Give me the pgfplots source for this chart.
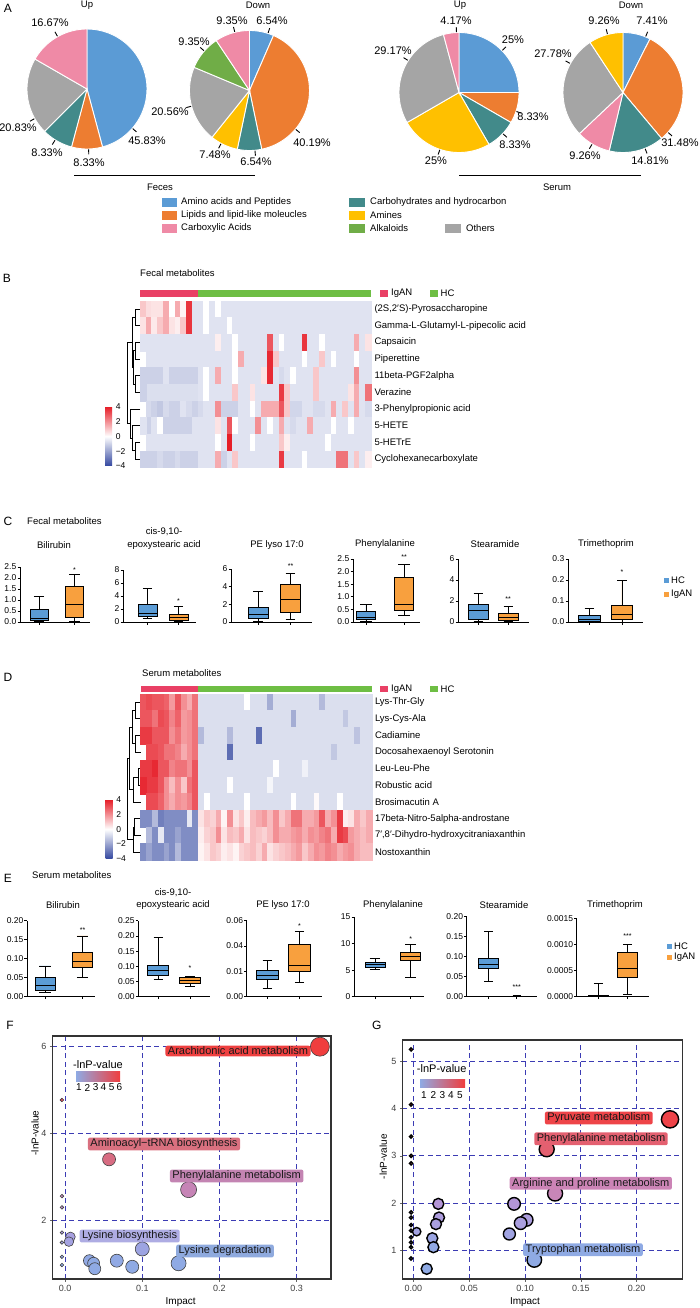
\documentclass[border=0pt]{standalone}
\usepackage{fontspec}
\setmainfont{Liberation Sans}
\setsansfont{Liberation Sans}
\usepackage{pgfplots}
\pgfplotsset{compat=1.18}
\usepackage{pgfplotstable}
\usepgfplotslibrary{statistics}
\usetikzlibrary{calc}
\newcommand{\fs}[1]{\fontsize{#1}{#1}\selectfont}
\definecolor{cBlue}{RGB}{91,155,213}
\definecolor{cOrange}{RGB}{237,125,49}
\definecolor{cPink}{RGB}{239,138,166}
\definecolor{cTeal}{RGB}{66,138,138}
\definecolor{cYellow}{RGB}{255,192,0}
\definecolor{cGreen}{RGB}{112,173,71}
\definecolor{cGray}{RGB}{165,165,165}
\definecolor{bBlue}{RGB}{91,156,214}
\definecolor{bOrange}{RGB}{248,160,62}
\definecolor{hIg}{RGB}{233,64,101}
\definecolor{hHC}{RGB}{110,190,68}
\definecolor{gridblue}{RGB}{60,60,180}
\definecolor{fRed}{RGB}{238,64,64}
\definecolor{fRose}{RGB}{217,112,127}
\definecolor{fMauve}{RGB}{195,132,178}
\definecolor{fLav}{RGB}{160,158,222}
\definecolor{fBlue}{RGB}{143,170,222}
\definecolor{gRed}{RGB}{238,68,72}
\definecolor{gRose}{RGB}{228,96,112}
\definecolor{gMauve}{RGB}{204,132,182}
\definecolor{gradL}{RGB}{143,170,228}
\definecolor{gradM}{RGB}{204,128,170}
\definecolor{gradR}{RGB}{240,62,62}

\pgfplotsset{
 pie/.style={hide axis, x=60pt, y=60pt, xmin=-1, xmax=1, ymin=-1, ymax=1, anchor=center, clip=false},
 heat/.style={scale only axis, anchor=north west, width=231pt, height=166.6pt, xmin=-0.5, xmax=39.5, ymin=-0.5, ymax=9.5, y dir=reverse, clip=false, enlargelimits=false,
   axis line style={draw=none}, xtick=\empty, ytick={0,1,2,3,4,5,6,7,8,9}, yticklabel pos=right, major tick length=0pt, tick style={draw=none},
   yticklabel style={font=\fs{9.5}},
   colormap={hm}{rgb255=(52,72,160) rgb255=(255,255,255) rgb255=(230,30,40)}, point meta min=-4, point meta max=4,
   colorbar, colorbar style={scale only axis, at={(parent axis.south west)}, anchor=south east, xshift=-36.3pt, yshift=1.5pt, width=7pt, height=59pt, y dir=normal,
     ytick={-4,-2,0,2,4}, yticklabels={−4,−2,0,2,4}, yticklabel pos=right, yticklabel style={font=\fs{8.5}}, major tick length=0pt, tick style={draw=none}, axis line style={draw=none}}},
 cells/.style={scatter, only marks, mark=square*, mark size=2.93pt, mark options={yscale=2.86, line width=0.05pt},
   scatter/use mapped color={draw=mapped color, fill=mapped color}},
 boxax/.style={scale only axis, anchor=south west, axis lines*=left, axis line style={-, line width=0.9pt}, ymin=0, xtick={1,2}, xticklabels={},
   tick align=outside, major tick length=2.5pt, tick style={black, line width=0.8pt}, yticklabel style={font=\fs{8.5}, inner sep=1pt}, clip=false, enlargelimits=false},
 bub/.style={scale only axis, anchor=south west, clip=false, grid=major, major grid style={draw=gridblue, dash pattern=on 5pt off 3.5pt, line width=0.8pt},
   axis line style={line width=1.6pt, draw=black!80}, tick pos=left, tick align=outside, major tick length=2.5pt, tick style={draw=black!60, line width=0.6pt},
   ticklabel style={font=\fs{9}, text=black!75}},
}
\newcommand{\slice}[3]{\addplot[fill=#3, draw=white, line width=0.9pt, domain=#1:#2, samples=40] ({cos(x)},{sin(x)}) -- (0,0) -- cycle;}
\newcommand{\dend}[5]{\addplot[black, line width=0.7pt, forget plot] coordinates {(#1,#2) (#3,#2) (#3,#5) (#4,#5)};}
\newcommand{\bw}{0.5}
\newcommand{\bx}[7]{\addplot[boxplot prepared={draw direction=y, lower whisker=#1, lower quartile=#2, median=#3, upper quartile=#4, upper whisker=#5, draw position=#6, box extend=\bw, whisker extend=0.3}, fill=#7, draw=black, line width=0.8pt] coordinates {};}
\newcommand{\plab}[5]{\node[font=\fs{11}, inner sep=0pt] at (#3,#4) {#5\%}; \draw[line width=0.9pt] ($(#1,#2)!60.5pt!(#3,#4)$) -- ($(#1,#2)!65.5pt!(#3,#4)$);}

\pgfplotstableread[row sep=\\]{v\\
1\\0.6\\0.5\\0.5\\1.5\\0\\1.5\\0.2\\3.6\\-0.6\\
-0.6\\0\\-0.6\\0\\-0.6\\-0.6\\-0.6\\-0.6\\-0.6\\-0.6\\
-0.6\\-0.6\\-0.6\\-0.6\\-0.6\\-0.6\\-0.6\\-0.6\\-0.6\\-0.6\\
-0.6\\-0.6\\-0.6\\-0.6\\-0.6\\-0.6\\-0.6\\-0.6\\-0.6\\-0.6\\
0.5\\1.5\\0.4\\1\\1.5\\0.5\\0.3\\1\\3.6\\-0.6\\
-0.6\\0\\-0.6\\-0.6\\-0.6\\0\\-0.6\\-0.6\\-0.6\\-0.6\\
-0.6\\-0.6\\-0.6\\-0.6\\-0.6\\-0.6\\-0.6\\-0.6\\-0.6\\-0.6\\
-0.6\\-0.6\\-0.6\\-0.6\\-0.6\\-0.6\\-0.6\\-0.6\\-0.6\\-0.6\\
-0.6\\-0.6\\-0.6\\-0.6\\-0.6\\-0.6\\-0.6\\-0.6\\-0.6\\-0.6\\
-0.6\\-0.6\\-0.6\\0.3\\-0.6\\-0.6\\0\\-0.6\\-0.6\\-0.6\\
-0.6\\-0.6\\3\\-0.6\\0\\-0.6\\-0.6\\-0.6\\3.6\\-0.6\\
-0.6\\0\\-0.6\\-0.6\\-0.6\\-0.6\\-0.6\\1.5\\-0.6\\0.5\\
-0.6\\-0.6\\-0.6\\-0.6\\-0.6\\-0.6\\-0.6\\-0.6\\-0.6\\-0.6\\
-0.6\\-0.6\\-0.6\\-0.6\\-0.6\\-0.6\\0\\1.5\\-0.6\\-0.6\\
-0.6\\-0.6\\3.8\\1\\-0.6\\-0.6\\-0.6\\-0.6\\0\\-0.6\\
-0.6\\1\\-0.6\\0\\-0.6\\-0.6\\-0.6\\0\\-0.6\\-0.6\\
-1\\-1\\-1\\-1\\-0.6\\-1\\-1\\-1\\-1\\-1\\
-0.6\\0\\-0.6\\1.5\\-0.6\\-0.6\\0\\-0.6\\-0.6\\-0.6\\
-0.6\\0.5\\3.8\\-0.6\\-0.8\\-0.6\\0\\-0.6\\-0.6\\-0.6\\
1\\-0.6\\-0.6\\-0.6\\-0.6\\-0.6\\-0.6\\2\\-0.6\\-0.6\\
-0.7\\-0.7\\-0.7\\-0.7\\-0.7\\-0.7\\-0.7\\-0.7\\-0.7\\-0.7\\
-0.6\\0\\-0.6\\-0.6\\-0.6\\-0.6\\1\\-0.6\\-0.6\\0.5\\
-0.6\\-0.6\\-0.6\\-0.6\\3.5\\1\\-0.6\\-0.6\\-0.6\\-0.6\\
1\\-0.6\\-0.6\\-0.6\\-0.6\\-0.6\\0.5\\1.5\\-0.6\\2.5\\
-1\\-0.8\\-1\\-1.2\\-0.8\\-1\\-1\\-0.6\\-0.8\\-1\\
-0.8\\-0.6\\-0.6\\2\\-1\\-1\\-1\\-0.6\\-0.6\\0\\
-0.6\\1.5\\1.5\\1.5\\3\\1\\-0.9\\-0.9\\-0.6\\-0.6\\
-0.8\\-0.8\\-0.6\\1.5\\-0.6\\1\\-0.6\\1.5\\-0.6\\-0.8\\
-1\\-1\\-0.6\\0\\-1\\-1\\-1\\-1\\-1\\-0.6\\
-0.6\\-0.6\\-0.6\\0.5\\-0.6\\3\\0\\-0.6\\-0.6\\-0.6\\
2\\-0.6\\0\\-0.6\\1.5\\-0.6\\-0.8\\-0.6\\-0.6\\1.5\\
-0.6\\-0.6\\-0.6\\0\\-0.6\\-0.6\\0\\-0.6\\-0.6\\-0.6\\
-0.6\\-0.6\\-0.6\\-0.6\\-0.6\\-0.6\\-0.6\\-0.6\\-0.6\\-0.6\\
-0.6\\-0.6\\-0.6\\0\\-0.6\\4\\-0.6\\-0.6\\-0.6\\0\\
-0.6\\-0.6\\-0.6\\-0.6\\1\\0.3\\-0.6\\-0.6\\-0.6\\-0.6\\
-0.6\\-0.6\\0\\-0.6\\-0.6\\-0.6\\-0.6\\-0.6\\-0.6\\-0.6\\
-1\\-1\\-1\\-0.8\\-1\\-1\\-0.8\\-1\\-1\\-1\\
-0.6\\-0.6\\-0.6\\1.5\\-1\\-0.6\\1\\-0.6\\-0.6\\-0.6\\
-0.6\\-0.6\\-0.6\\-0.6\\3.5\\-0.6\\-0.6\\-0.6\\0\\-0.6\\
-0.6\\-0.6\\-0.6\\-0.6\\2.5\\2.5\\-0.6\\1\\-0.6\\0.3\\}\fecT

\pgfplotstableread[row sep=\\]{v\\
3\\3.2\\3\\3\\2.8\\1.8\\3\\2\\1.5\\2.5\\
-0.7\\-0.7\\-0.7\\-0.7\\-0.7\\-0.7\\-0.7\\-0.7\\0\\-0.7\\
-0.7\\-0.7\\-1.8\\-0.7\\-0.7\\-0.7\\-0.7\\-0.7\\-0.7\\-0.7\\
-0.7\\-1.5\\-0.7\\-0.7\\-0.7\\-0.7\\-0.7\\-0.7\\-0.7\\-0.7\\
3\\3\\2.5\\3.2\\3\\2.2\\2.8\\1.8\\2\\2.5\\
-0.7\\-0.7\\-0.7\\-0.7\\-0.7\\-0.7\\-0.7\\-0.7\\-0.7\\-0.7\\
-0.7\\-0.7\\-0.7\\-0.7\\-0.7\\-0.7\\-1.8\\-0.7\\-0.7\\-0.7\\
-0.7\\-0.7\\-0.7\\-0.7\\-0.7\\-1.2\\-0.7\\-0.7\\-0.7\\-0.7\\
3.5\\3.5\\3\\3\\3\\2\\2.5\\1.8\\2\\2.5\\
-1.5\\-0.7\\-0.7\\-0.7\\-0.7\\-1.5\\-0.7\\-0.7\\-0.7\\-0.7\\
-3.2\\-0.7\\-0.7\\-0.7\\-0.7\\-0.7\\-0.7\\-0.7\\-0.7\\-0.7\\
-0.7\\-0.7\\-0.7\\-0.7\\-0.7\\-0.7\\-0.7\\-1.3\\-0.7\\-0.7\\
3.5\\3.2\\3.2\\3\\2.5\\2.5\\2.2\\1.5\\2\\2.5\\
-0.7\\-0.7\\-0.7\\-0.7\\-0.7\\-3.2\\-0.7\\-0.7\\-0.7\\-0.7\\
-0.7\\-0.7\\-0.7\\-0.7\\-0.7\\-0.7\\-0.7\\-0.7\\-0.7\\-0.7\\
-0.7\\-0.7\\-0.7\\-1.2\\-0.7\\-0.7\\-0.7\\-0.7\\-0.7\\-0.7\\
3.5\\3.5\\3.8\\3\\3\\2.2\\2.5\\2.5\\2\\3\\
-0.7\\-0.7\\-0.7\\-0.7\\-0.7\\-0.7\\-0.7\\-0.7\\-0.7\\-0.7\\
-0.7\\-0.7\\-0.7\\0\\-0.7\\-0.7\\-0.7\\-0.7\\-0.3\\-0.7\\
-0.7\\-0.7\\-0.7\\-0.7\\-0.7\\-0.7\\-0.7\\-0.7\\-0.7\\-0.7\\
3.8\\3.5\\3.5\\3\\2\\1.2\\2\\1\\2.5\\3\\
-0.7\\-0.7\\-0.7\\-0.7\\-0.7\\0\\-0.7\\-0.7\\-0.7\\-0.7\\
-0.7\\-0.7\\-0.2\\-0.7\\-0.7\\-0.7\\-0.7\\-0.7\\-0.7\\-0.7\\
-0.7\\-0.7\\-0.7\\-0.7\\-0.7\\-0.7\\-0.7\\-0.7\\-0.7\\-0.7\\
3.8\\3.2\\3.2\\2.8\\2\\1.5\\2\\1.8\\2.2\\3\\
-0.7\\0\\-0.7\\-0.7\\-0.7\\-0.7\\-0.7\\-0.7\\0\\-0.7\\
-0.7\\-0.7\\-0.7\\-0.7\\-0.7\\-0.7\\0\\-0.7\\-0.7\\-0.7\\
0.1\\-0.7\\-0.7\\-0.7\\0\\-0.7\\-0.7\\-0.7\\-0.7\\-0.7\\
-2.5\\-2.5\\-1.5\\-2.8\\-2.5\\-2.5\\-2.5\\-2.5\\-0.5\\-2.5\\
0.5\\1\\0.8\\1.5\\0.2\\2\\0.5\\1\\0.3\\1.2\\
1.5\\1.8\\1.2\\2\\1\\1.5\\2.5\\2.5\\1.5\\1.5\\
1.8\\3\\1.5\\2\\3.5\\0.3\\0.5\\1.5\\1\\1.5\\
-2.5\\-1.5\\-2.5\\-0.5\\-2.5\\-2.5\\-2\\-2.5\\-2.5\\-2.5\\
0.3\\0.8\\1\\2\\0.5\\1.2\\1\\1.5\\0.5\\1.2\\
1\\0.8\\1.2\\2\\1.5\\1.5\\1.8\\2\\1.5\\2\\
1.8\\2.2\\2.5\\1.5\\3.5\\3.2\\1.8\\1.5\\1.2\\1.5\\
-2.5\\-2\\-2.5\\-2.5\\-2\\-2.5\\-1.5\\-2.5\\-2.5\\-2.5\\
0.2\\0.5\\1\\0.8\\0.3\\0.5\\0.2\\0.8\\1\\1.2\\
0.8\\1.5\\0.5\\0.8\\1\\1.2\\1.5\\1.8\\1\\1.5\\
2\\1.8\\2.2\\2\\1.5\\1.8\\2\\1.5\\1.2\\1.2\\}\serT

\pgfplotstablecreatecol[create col/expr={mod(\pgfplotstablerow,40)}]{cx}{\fecT}
\pgfplotstablecreatecol[create col/expr={floor(\pgfplotstablerow/40)}]{cy}{\fecT}
\pgfplotstablecreatecol[create col/expr={mod(\pgfplotstablerow,40)}]{cx}{\serT}
\pgfplotstablecreatecol[create col/expr={floor(\pgfplotstablerow/40)}]{cy}{\serT}

\pgfplotstableread{
x y r
0.330 6.00 9.5
-0.004 4.77 1.8
-0.004 2.55 1.8
-0.004 2.29 1.8
-0.004 1.71 1.8
-0.004 1.48 1.8
-0.004 1.15 1.8
-0.004 0.96 1.8
0.007 1.61 4.8
0.005 1.50 4.8
0.057 3.40 6.5
0.160 2.70 8
0.100 1.33 7
0.147 1.00 7.5
0.0316 1.06 6
0.037 1.00 6
0.0385 0.875 6
0.067 1.06 6.5
0.087 0.92 6.5
}\bubF

\pgfplotstableread{
x y r
0.2298 3.775 8.6
0.1194 3.14 7.5
0.1269 2.20 7.5
0.1083 0.79 7.3
0.0902 1.98 6.3
0.1015 1.64 6.3
0.0961 1.57 6.3
0.0860 1.34 6.0
0.0224 1.98 5.5
0.0230 1.69 5.5
0.0203 1.55 5.5
0.0170 1.25 5.5
0.0180 1.06 5.5
0.0120 0.60 5.5
0.0030 1.39 4.2
-0.002 5.26 1.6
-0.002 4.09 1.6
-0.002 3.41 1.6
-0.002 3.00 1.6
-0.002 2.84 1.6
-0.002 1.80 1.6
-0.002 1.69 1.6
-0.002 1.53 1.6
-0.002 1.41 1.6
-0.002 1.27 1.6
-0.002 1.16 1.6
-0.002 1.06 1.6
-0.002 0.82 1.6
}\bubG

\begin{document}
\begin{tikzpicture}[x=1pt,y=-1pt]
\useasboundingbox (0,0) rectangle (700,1308);

% ================= A: pies
\begin{axis}[pie, at={(87pt,-89pt)}]
\slice{-74.99}{90}{cBlue}
\slice{-104.98}{-74.99}{cOrange}
\slice{-134.96}{-104.98}{cTeal}
\slice{-209.95}{-134.96}{cGray}
\slice{-270}{-209.95}{cPink}
\end{axis}
\begin{axis}[pie, at={(249.5pt,-90.5pt)}]
\slice{66.456}{90}{cBlue}
\slice{-78.228}{66.456}{cOrange}
\slice{-101.772}{-78.228}{cTeal}
\slice{-128.7}{-101.772}{cYellow}
\slice{-202.716}{-128.7}{cGray}
\slice{-236.376}{-202.716}{cGreen}
\slice{-270}{-236.376}{cPink}
\end{axis}
\begin{axis}[pie, at={(459pt,-92.5pt)}]
\slice{0}{90}{cBlue}
\slice{-29.988}{0}{cOrange}
\slice{-59.976}{-29.988}{cTeal}
\slice{-149.976}{-59.976}{cYellow}
\slice{-254.988}{-149.976}{cGray}
\slice{-270}{-254.988}{cPink}
\end{axis}
\begin{axis}[pie, at={(623pt,-92.5pt)}]
\slice{63.324}{90}{cBlue}
\slice{-50.004}{63.324}{cOrange}
\slice{-103.32}{-50.004}{cTeal}
\slice{-136.656}{-103.32}{cPink}
\slice{-236.664}{-136.656}{cGray}
\slice{-270}{-236.664}{cYellow}
\end{axis}

\plab{87}{89}{50}{23}{16.67}
\plab{87}{89}{18}{128}{20.83}
\plab{87}{89}{47}{153}{8.33}
\plab{87}{89}{89}{163}{8.33}
\plab{87}{89}{147}{141}{45.83}
\plab{249.5}{90.5}{232}{21}{9.35}
\plab{249.5}{90.5}{272}{21}{6.54}
\plab{249.5}{90.5}{194}{42}{9.35}
\plab{249.5}{90.5}{170}{112}{20.56}
\plab{249.5}{90.5}{215}{155}{7.48}
\plab{249.5}{90.5}{256}{162}{6.54}
\plab{249.5}{90.5}{312}{143}{40.19}
\plab{459}{92.5}{456}{21}{4.17}
\plab{459}{92.5}{513}{40}{25}
\plab{459}{92.5}{393}{51}{29.17}
\plab{459}{92.5}{533}{117}{8.33}
\plab{459}{92.5}{515}{145}{8.33}
\plab{459}{92.5}{436}{161}{25}
\plab{623}{92.5}{604}{21}{9.26}
\plab{623}{92.5}{652}{21}{7.41}
\plab{623}{92.5}{553}{54}{27.78}
\plab{623}{92.5}{680}{143}{31.48}
\plab{623}{92.5}{650}{161}{14.81}
\plab{623}{92.5}{585}{156}{9.26}

\node[font=\fs{12}, inner sep=0pt] at (8,8) {A};
\node[font=\fs{9.5}, inner sep=0pt] at (87,5) {Up};
\node[font=\fs{9.5}, inner sep=0pt] at (258,5) {Down};
\node[font=\fs{9.5}, inner sep=0pt] at (460,5) {Up};
\node[font=\fs{9.5}, inner sep=0pt] at (631,5) {Down};
\draw[line width=1pt] (74,176) -- (255,176);
\draw[line width=1pt] (459,176) -- (641,176);
\node[font=\fs{9.5}, inner sep=0pt] at (160,187) {Feces};
\node[font=\fs{9.5}, inner sep=0pt] at (557,187) {Serum};
\fill[cBlue] (162,198) rectangle (177,207);
\fill[cOrange] (162,210.5) rectangle (177,219.5);
\fill[cPink] (162,223.5) rectangle (177,232.5);
\fill[cTeal] (349,198) rectangle (365,207);
\fill[cYellow] (349,210.5) rectangle (365,219.5);
\fill[cGreen] (349,223.5) rectangle (365,232.5);
\fill[cGray] (445,223.5) rectangle (461,232.5);
\begin{scope}[every node/.style={font=\fs{9.5}, anchor=west, inner sep=0pt}]
\node at (181,202.5) {Amino acids and Peptides};
\node at (181,215) {Lipids and lipid-like moleucles};
\node at (181,228) {Carboxylic Acids};
\node at (370,202.5) {Carbohydrates and hydrocarbon};
\node at (370,215) {Amines};
\node at (370,228) {Alkaloids};
\node at (466,228) {Others};
\end{scope}

% ================= B: fecal heatmap
\begin{axis}[heat, at={(140pt,-300.7pt)},
  yticklabels={{(2S,2′S)-Pyrosaccharopine},Gamma-L-Glutamyl-L-pipecolic acid,Capsaicin,Piperettine,11beta-PGF2alpha,Verazine,3-Phenylpropionic acid,5-HETE,5-HETrE,Cyclohexanecarboxylate}]
\addplot[cells, point meta=\thisrow{v}] table[x=cx, y=cy] {\fecT};
\dend{-0.5}{0}{-1.31}{-0.5}{1}
\dend{-0.5}{2}{-1.31}{-0.5}{3}
\dend{-0.5}{4}{-1.31}{-0.5}{5}
\dend{-1.31}{2.5}{-1.71}{-1.31}{4.5}
\dend{-1.31}{0.5}{-1.89}{-1.71}{3.5}
\dend{-0.5}{8}{-1.31}{-0.5}{9}
\dend{-0.5}{7}{-1.89}{-1.31}{8.5}
\dend{-0.5}{6}{-2.16}{-1.89}{7.75}
\dend{-1.89}{2}{-2.75}{-2.16}{6.875}
\end{axis}
\node[font=\fs{12}, inner sep=0pt] at (7,278) {B};
\node[font=\fs{9.5}, anchor=west, inner sep=0pt] at (140,273) {Fecal metabolites};
\fill[hIg] (140,290) rectangle (197.75,297);
\fill[hHC] (197.75,290) rectangle (371,297);
\fill[hIg] (379.5,290) rectangle (387.5,297);
\fill[hHC] (429.5,290) rectangle (437.5,297);
\node[font=\fs{9.5}, anchor=west, inner sep=0pt] at (391,293.5) {IgAN};
\node[font=\fs{9.5}, anchor=west, inner sep=0pt] at (440.5,293.5) {HC};

% ================= C: fecal boxplots
\node[font=\fs{12}, inner sep=0pt] at (8,521) {C};
\node[font=\fs{9.5}, anchor=west, inner sep=0pt] at (27,521) {Fecal metabolites};
\begin{scope}[every node/.style={font=\fs{9.5}, inner sep=0pt}]
\node at (54,545) {Bilirubin};
\node at (164,532) {cis-9,10-};
\node at (164,545) {epoxystearic acid};
\node at (277,545) {PE lyso 17:0};
\node at (385,544) {Phenylalanine};
\node at (495,544) {Stearamide};
\node at (606,544) {Trimethoprim};
\end{scope}

\renewcommand{\bw}{0.51}
\begin{axis}[boxax, at={(20pt,-622pt)}, width=70pt, height=55pt, xmin=0.46, xmax=2.44, ymax=2.5, ytick={0,0.5,1,1.5,2,2.5}, yticklabels={0.0,0.5,1.0,1.5,2.0,2.5}]
\bx{0.02}{0.07}{0.18}{0.56}{1.15}{1}{bBlue}
\bx{0.03}{0.2}{0.8}{1.62}{2.15}{2}{bOrange}
\node[font=\fs{7}] at (axis cs:2,2.38) {*};
\end{axis}
\renewcommand{\bw}{0.61}
\begin{axis}[boxax, at={(123pt,-622pt)}, width=73pt, height=52pt, xmin=0.21, xmax=2.56, ymax=8, ytick={0,2,4,6,8}, yticklabels={0,2,4,6,8}]
\bx{0.5}{0.8}{1.4}{2.7}{5.2}{1}{bBlue}
\bx{0.05}{0.2}{0.75}{1.2}{2.35}{2}{bOrange}
\node[font=\fs{7}] at (axis cs:2,3.2) {*};
\end{axis}
\begin{axis}[boxax, at={(231pt,-622pt)}, width=81pt, height=53pt, xmin=0.17, xmax=2.66, ymax=6, ytick={0,2,4,6}, yticklabels={0,2,4,6}]
\bx{0.1}{0.45}{0.9}{1.7}{3.5}{1}{bBlue}
\bx{0.3}{1.1}{2.6}{4.3}{5.5}{2}{bOrange}
\node[font=\fs{7}] at (axis cs:2,6.3) {**};
\end{axis}
\renewcommand{\bw}{0.5}
\begin{axis}[boxax, at={(353pt,-622pt)}, width=67pt, height=63pt, xmin=0.66, xmax=2.42, ymax=2.5, ytick={0,0.5,1,1.5,2,2.5}, yticklabels={0.0,0.5,1.0,1.5,2.0,2.5}]
\bx{0.02}{0.1}{0.2}{0.42}{0.68}{1}{bBlue}
\bx{0.25}{0.45}{0.68}{1.76}{2.29}{2}{bOrange}
\node[font=\fs{7}] at (axis cs:2,2.56) {**};
\end{axis}
\renewcommand{\bw}{0.67}
\begin{axis}[boxax, at={(458pt,-622pt)}, width=71pt, height=63pt, xmin=0.33, xmax=2.7, ymax=6, ytick={0,2,4,6}, yticklabels={0,2,4,6}]
\bx{0.02}{0.25}{1.1}{1.65}{2.7}{1}{bBlue}
\bx{0.02}{0.2}{0.45}{0.8}{1.45}{2}{bOrange}
\node[font=\fs{7}] at (axis cs:2,2.2) {**};
\end{axis}
\renewcommand{\bw}{0.65}
\begin{axis}[boxax, at={(568pt,-622pt)}, width=75pt, height=63pt, xmin=0.34, xmax=2.65, ymax=0.3, ytick={0,0.1,0.2,0.3}, yticklabels={0.0,0.1,0.2,0.3}]
\bx{0}{0.005}{0.014}{0.033}{0.066}{1}{bBlue}
\bx{0}{0.014}{0.038}{0.081}{0.2}{2}{bOrange}
\node[font=\fs{7}] at (axis cs:2,0.24) {*};
\end{axis}
\fill[bBlue] (664,577.5) rectangle (669,582.5);
\fill[bOrange] (664,591.5) rectangle (669,596.5);
\node[font=\fs{9.5}, anchor=west, inner sep=0pt] at (671,580) {HC};
\node[font=\fs{9.5}, anchor=west, inner sep=0pt] at (671,594) {IgAN};

% ================= D: serum heatmap
\begin{axis}[heat, at={(140.5pt,-693.6pt)},
  yticklabels={Lys-Thr-Gly,Lys-Cys-Ala,Cadiamine,Docosahexaenoyl Serotonin,Leu-Leu-Phe,Robustic acid,Brosimacutin A,17beta-Nitro-5alpha-androstane,{7′,8′-Dihydro-hydroxycitraniaxanthin},Nostoxanthin}]
\addplot[cells, point meta=\thisrow{v}] table[x=cx, y=cy] {\serT};
\dend{-0.5}{0}{-1.37}{-0.5}{1}
\dend{-0.5}{2}{-1.37}{-0.5}{3}
\dend{-1.37}{0.5}{-1.9}{-1.37}{2.5}
\dend{-0.5}{4}{-0.85}{-0.5}{5}
\dend{-0.5}{6}{-1.7}{-0.85}{4.5}
\dend{-1.9}{1.5}{-2.4}{-1.7}{5.25}
\dend{-0.5}{7}{-1.5}{-0.5}{8}
\dend{-0.5}{9}{-1.7}{-1.5}{7.5}
\dend{-2.4}{3.375}{-2.7}{-1.7}{8.25}
\end{axis}
\node[font=\fs{12}, inner sep=0pt] at (8,677) {D};
\node[font=\fs{9.5}, anchor=west, inner sep=0pt] at (142,673) {Serum metabolites};
\fill[hIg] (140.5,686) rectangle (198.3,692);
\fill[hHC] (198.3,686) rectangle (371.5,692);
\fill[hIg] (379.5,686) rectangle (387.5,692);
\fill[hHC] (429.5,686) rectangle (437.5,692);
\node[font=\fs{9.5}, anchor=west, inner sep=0pt] at (391,689) {IgAN};
\node[font=\fs{9.5}, anchor=west, inner sep=0pt] at (440.5,689) {HC};

% ================= E: serum boxplots
\node[font=\fs{12}, inner sep=0pt] at (8,878) {E};
\node[font=\fs{9.5}, anchor=west, inner sep=0pt] at (32,875) {Serum metabolites};
\begin{scope}[every node/.style={font=\fs{9.5}, inner sep=0pt}]
\node at (63,905.5) {Bilirubin};
\node at (173,892.5) {cis-9,10-};
\node at (173,905.5) {epoxystearic acid};
\node at (283,905.5) {PE lyso 17:0};
\node at (393,905.5) {Phenylalanine};
\node at (504,905.5) {Stearamide};
\node at (615,905.5) {Trimethoprim};
\end{scope}
\renewcommand{\bw}{0.53}
\begin{axis}[boxax, at={(27pt,-996.7pt)}, width=68pt, height=76pt, xmin=0.52, xmax=2.33, ymax=0.2, ytick={0,0.05,0.1,0.15,0.2}, yticklabels={0.00,0.05,0.10,0.15,0.20}]
\bx{0.012}{0.016}{0.029}{0.051}{0.081}{1}{bBlue}
\bx{0.05}{0.077}{0.094}{0.117}{0.16}{2}{bOrange}
\node[font=\fs{7}] at (axis cs:2,0.175) {**};
\end{axis}
\renewcommand{\bw}{0.66}
\begin{axis}[boxax, at={(138.3pt,-996.7pt)}, width=71.7pt, height=76pt, xmin=0.37, xmax=2.63, ymax=0.25, ytick={0,0.05,0.1,0.15,0.2,0.25}, yticklabels={0.00,0.05,0.10,0.15,0.20,0.25}]
\bx{0.058}{0.069}{0.088}{0.102}{0.195}{1}{bBlue}
\bx{0.033}{0.044}{0.055}{0.064}{0.068}{2}{bOrange}
\node[font=\fs{7}] at (axis cs:2,0.095) {*};
\end{axis}
\renewcommand{\bw}{0.69}
% values in units of 0.01 (axis as printed in the source: 0.00, 0.01, 0.04, 0.06)
\begin{axis}[boxax, at={(246.7pt,-996.7pt)}, width=75pt, height=76pt, xmin=0.35, xmax=2.69, ymax=6, ytick={0,2,4,6}, yticklabels={0.00,0.01,0.04,0.06}]
\bx{0.66}{1.4}{1.71}{2.1}{2.89}{1}{bBlue}
\bx{1.1}{2.03}{2.45}{4.16}{5.13}{2}{bOrange}
\node[font=\fs{7}] at (axis cs:2,5.55) {*};
\end{axis}
\renewcommand{\bw}{0.56}
\begin{axis}[boxax, at={(354pt,-996.7pt)}, width=70pt, height=79.7pt, xmin=0.41, xmax=2.37, ymax=15, ytick={0,5,10,15}, yticklabels={0,5,10,15}]
\bx{5.1}{5.6}{6.1}{6.5}{7.2}{1}{bBlue}
\bx{3.7}{6.8}{7.6}{8.4}{9.8}{2}{bOrange}
\node[font=\fs{7}] at (axis cs:2,10.9) {*};
\end{axis}
\renewcommand{\bw}{0.7}
\begin{axis}[boxax, at={(466.7pt,-996.7pt)}, width=70pt, height=80pt, xmin=0.24, xmax=2.7, ymax=0.2, ytick={0,0.05,0.1,0.15,0.2}, yticklabels={0.00,0.05,0.10,0.15,0.20}]
\bx{0.0375}{0.071}{0.082}{0.095}{0.1625}{1}{bBlue}
\bx{0}{0.0005}{0.001}{0.002}{0.003}{2}{bOrange}
\node[font=\fs{7}] at (axis cs:2,0.0235) {***};
\end{axis}
\renewcommand{\bw}{0.68}
% values in units of 0.001
\begin{axis}[boxax, at={(576.7pt,-996.7pt)}, width=72.6pt, height=78.4pt, xmin=0.26, xmax=2.75, ymax=1.5, ytick={0,0.5,1,1.5}, yticklabels={0.0000,0.0005,0.0010,0.0015}]
\bx{0}{0.005}{0.01}{0.03}{0.25}{1}{bBlue}
\bx{0.05}{0.36}{0.55}{0.85}{1.0}{2}{bOrange}
\node[font=\fs{7}] at (axis cs:2,1.16) {***};
\end{axis}
\fill[bBlue] (667,943.5) rectangle (672,948.5);
\fill[bOrange] (667,954.5) rectangle (672,959.5);
\node[font=\fs{9.5}, anchor=west, inner sep=0pt] at (674,946) {HC};
\node[font=\fs{9.5}, anchor=west, inner sep=0pt] at (674,957) {IgAN};

% ================= F: bubble plot
\begin{axis}[bub, at={(52.3pt,-1279pt)}, width=278.4pt, height=243.3pt, xmin=-0.0165, xmax=0.344, ymin=0.637, ymax=6.254,
  xtick={0,0.1,0.2,0.3}, xticklabels={0.0,0.1,0.2,0.3}, ytick={2,4,6}, yticklabels={2,4,6},
  colormap={bubF}{rgb255(0cm)=(143,170,228) rgb255(0.6cm)=(168,160,224) rgb255(1.7cm)=(198,132,182) rgb255(2.4cm)=(215,108,130) rgb255(5cm)=(240,62,62)},
  point meta min=1, point meta max=6]
\addplot[scatter, only marks, mark=*, point meta=y, scatter/use mapped color={draw=black!75, fill=mapped color},
  visualization depends on={\thisrow{r}\as\prad}, scatter/@pre marker code/.append style={/tikz/mark size=\prad pt}, mark options={line width=0.6pt}] table {\bubF};
\end{axis}
\node[font=\fs{12}, inner sep=0pt] at (10,1025) {F};
\node[font=\fs{10}, inner sep=0pt] at (180.7,1301.7) {Impact};
\node[font=\fs{10}, inner sep=0pt, rotate=90] at (35,1133) {-lnP-value};
\node[font=\fs{11}, inner sep=0pt] at (98,1064.3) {-lnP-value};
\shade[left color=gradL, middle color=gradM, right color=gradR] (76,1071.7) rectangle (120,1081);
\begin{scope}[every node/.style={font=\fs{10}, inner sep=0pt}]
\node at (79,1087.5) {1}; \node at (87.3,1087.5) {2}; \node at (95.7,1087.5) {3};
\node at (103.3,1087.5) {4}; \node at (111.7,1087.5) {5}; \node at (119.3,1087.5) {6};
\end{scope}
\begin{scope}[every node/.style={rounded corners=2pt, inner xsep=2.5pt, inner ysep=1.3pt, font=\fs{11}, text=black!90}]
\node[fill=fRed] at (238,1051) {Arachidonic acid metabolism};
\node[fill=fRose] at (164,1144) {Aminoacyl−tRNA biosynthesis};
\node[fill=fMauve] at (236.7,1176) {Phenylalanine metabolism};
\node[fill=fLav, fill opacity=0.85, text opacity=1] at (129.7,1236) {Lysine biosynthesis};
\node[fill=fBlue] at (225,1251) {Lysine degradation};
\end{scope}

% ================= G: bubble plot
\begin{axis}[bub, at={(402.3pt,-1279pt)}, width=280pt, height=239pt, xmin=-0.00985, xmax=0.2408, ymin=0.384, ymax=5.46,
  xtick={0,0.05,0.1,0.15,0.2}, xticklabels={0.00,0.05,0.10,0.15,0.20}, ytick={1,2,3,4,5}, yticklabels={1,2,3,4,5},
  colormap={bubG}{rgb255(0cm)=(143,170,228) rgb255(0.5cm)=(168,160,224) rgb255(1cm)=(180,150,215) rgb255(1.2cm)=(200,134,184) rgb255(2.1cm)=(226,98,115) rgb255(2.8cm)=(238,66,70) rgb255(4cm)=(242,56,56)},
  point meta min=1, point meta max=5]
\addplot[scatter, only marks, mark=*, point meta=y, scatter/use mapped color={draw=black, fill=mapped color},
  visualization depends on={\thisrow{r}\as\prad}, scatter/@pre marker code/.append style={/tikz/mark size=\prad pt}, mark options={line width=1.4pt}] table {\bubG};
\end{axis}
\node[font=\fs{12}, inner sep=0pt] at (376.7,1025) {G};
\node[font=\fs{10}, inner sep=0pt] at (525,1301.7) {Impact};
\node[font=\fs{10}, inner sep=0pt, rotate=90] at (383.3,1156.7) {-lnP-value};
\node[font=\fs{11}, inner sep=0pt] at (441.7,1068.3) {-lnP-value};
\shade[left color=gradL, middle color=gradM, right color=gradR] (420,1079.3) rectangle (465,1087.3);
\begin{scope}[every node/.style={font=\fs{10}, inner sep=0pt}]
\node at (424,1095) {1}; \node at (433.3,1095) {2}; \node at (442.3,1095) {3};
\node at (451,1095) {4}; \node at (460,1095) {5};
\end{scope}
\begin{scope}[every node/.style={rounded corners=2pt, inner xsep=2.5pt, inner ysep=1.3pt, font=\fs{11}, text=black!90}]
\node[fill=gRed] at (598.8,1118) {Pyruvate metabolism};
\node[fill=gRose] at (601,1138.8) {Phenylalanine metabolism};
\node[fill=gMauve] at (590.8,1183.3) {Arginine and proline metabolism};
\node[fill=gradL] at (583,1249.7) {Tryptophan metabolism};
\end{scope}
\end{tikzpicture}
\end{document}
